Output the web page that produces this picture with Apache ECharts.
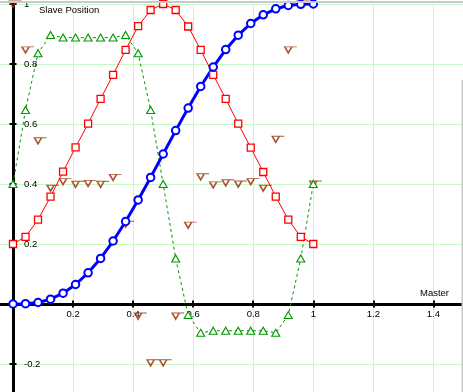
<!DOCTYPE html>
<html><head><meta charset="utf-8">
<style>html,body{margin:0;padding:0;background:#fff;}#chart{width:463px;height:392px;}</style>
<script src="https://cdn.jsdelivr.net/npm/echarts@6/dist/echarts.min.js"></script>
</head><body><div id="chart"></div>
<script>
const master = [0, 0.0417, 0.0833, 0.125, 0.1667, 0.2083, 0.25, 0.2917, 0.3333, 0.375, 0.4167, 0.4583, 0.5,
  0.5417, 0.5833, 0.625, 0.6667, 0.7083, 0.75, 0.7917, 0.8333, 0.875, 0.9167, 0.9583, 1];
const slavePosition = [0, 0.001, 0.005, 0.016, 0.036, 0.065, 0.104, 0.152, 0.21, 0.275, 0.347, 0.422, 0.5,
  0.578, 0.653, 0.725, 0.79, 0.848, 0.896, 0.935, 0.964, 0.984, 0.995, 0.999, 1];
const slaveVelocity = [0.2, 0.224, 0.281, 0.358, 0.441, 0.522, 0.601, 0.684, 0.764, 0.847, 0.926, 0.98, 1.0,
  0.98, 0.925, 0.847, 0.764, 0.684, 0.601, 0.521, 0.44, 0.358, 0.281, 0.224, 0.2];
const slaveAcceleration = [0.4, 0.647, 0.836, 0.897, 0.888, 0.888, 0.888, 0.888, 0.888, 0.897, 0.836, 0.647, 0.4,
  0.152, -0.037, -0.096, -0.089, -0.089, -0.089, -0.089, -0.089, -0.096, -0.037, 0.152, 0.4];
const slaveJerk = [1.0, 0.847, 0.544, 0.386, 0.408, 0.399, 0.402, 0.399, 0.422, 0.266, -0.04, -0.196, -0.196,
  -0.04, 0.263, 0.424, 0.397, 0.404, 0.4, 0.408, 0.386, 0.549, 0.847, 1.0, 0.4];
const xTickValues = [0, 0.2, 0.4, 0.6, 0.8, 1, 1.2, 1.4];
const xLabelValues = [0.2, 0.4, 0.6, 0.8, 1, 1.2, 1.4];
const yTickValues = [-0.2, 0, 0.2, 0.4, 0.6, 0.8, 1];
const yLabelValues = [-0.2, 0.2, 0.4, 0.6, 0.8, 1];

const FONT = 'Liberation Sans';
const pairs = arr => master.map((x, i) => [x, arr[i]]);

const X_MIN = -0.0433, X_MAX = 1.4985, Y_MIN = -0.2933, Y_MAX = 1.0;
const hidden = { axisLine: { show: false }, axisTick: { show: false }, axisLabel: { show: false }, splitLine: { show: false } };
const tick = (inside, values) => ({ show: true, inside: inside, length: 3.5, customValues: values, lineStyle: { color: '#000', width: 2 } });
const axisLine = { show: true, onZero: false, lineStyle: { color: '#000', width: 3 } };

const chart = echarts.init(document.getElementById('chart'), null, { renderer: 'canvas' });
chart.setOption({
  animation: false,
  backgroundColor: '#fff',
  grid: [
    { left: 0, right: 0, top: 4, bottom: 0, containLabel: false, outerBoundsMode: 'none' },   // plot area
    { left: 0, right: 0, top: 4, bottom: 88, containLabel: false, outerBoundsMode: 'none' },  // x axis (at y = 0)
    { left: 13, right: 0, top: 4, bottom: 0, containLabel: false, outerBoundsMode: 'none' }   // y axis (at x = 0)
  ],
  xAxis: [
    { gridIndex: 0, type: 'value', min: X_MIN, max: X_MAX,
      axisLine: { show: false }, axisLabel: { show: false },
      axisTick: { show: false, customValues: xTickValues },
      splitLine: { show: true, lineStyle: { color: '#c8f8c8', width: 1 } } },
    { gridIndex: 1, type: 'value', min: X_MIN, max: X_MAX, position: 'bottom',
      axisLine: axisLine, axisTick: tick(false, xTickValues),
      axisLabel: { show: true, customValues: xLabelValues, margin: 5, color: '#000', fontSize: 9.5, fontFamily: FONT, formatter: v => String(v) },
      splitLine: { show: false } },
    { gridIndex: 1, type: 'value', min: X_MIN, max: X_MAX, position: 'bottom',
      axisLine: axisLine, axisTick: tick(true, xTickValues), axisLabel: { show: false }, splitLine: { show: false } },
    Object.assign({ gridIndex: 2, type: 'value', min: 0, max: 1 }, hidden)
  ],
  yAxis: [
    { gridIndex: 0, type: 'value', min: Y_MIN, max: Y_MAX,
      axisLine: { show: false }, axisLabel: { show: false },
      axisTick: { show: false, customValues: yTickValues },
      splitLine: { show: true, lineStyle: { color: '#c8f8c8', width: 1 } } },
    Object.assign({ gridIndex: 1, type: 'value', min: 0, max: 1 }, hidden),
    { gridIndex: 2, type: 'value', min: Y_MIN, max: Y_MAX, position: 'left',
      axisLine: axisLine, axisTick: tick(false, yTickValues),
      axisLabel: { show: true, inside: true, align: 'left', customValues: yLabelValues, margin: 11, color: '#000', fontSize: 9.5, fontFamily: FONT, formatter: v => String(v) },
      splitLine: { show: false } },
    { gridIndex: 2, type: 'value', min: Y_MIN, max: Y_MAX, position: 'left',
      axisLine: axisLine, axisTick: tick(true, yTickValues), axisLabel: { show: false }, splitLine: { show: false } }
  ],
  series: [
    {
      name: 'Velocity', type: 'line', xAxisIndex: 0, yAxisIndex: 0, data: pairs(slaveVelocity), showAllSymbol: true,
      symbol: 'rect', symbolSize: 7,
      lineStyle: { color: '#ff0000', width: 1 },
      itemStyle: { color: '#fff', borderColor: '#ff0000', borderWidth: 1.3 },
      emphasis: { disabled: true }
    },
    {
      name: 'Acceleration', type: 'line', xAxisIndex: 0, yAxisIndex: 0, data: pairs(slaveAcceleration), showAllSymbol: true,
      symbol: 'triangle', symbolSize: [8, 7],
      lineStyle: { color: '#009900', width: 1, type: [3, 3] },
      itemStyle: { color: '#fff', borderColor: '#009900', borderWidth: 1.1 },
      emphasis: { disabled: true }
    },
    {
      name: 'Position', type: 'line', xAxisIndex: 0, yAxisIndex: 0, data: pairs(slavePosition), showAllSymbol: true,
      symbol: 'circle', symbolSize: 7.5,
      lineStyle: { color: '#0000ff', width: 3 },
      itemStyle: { color: '#fff', borderColor: '#0000ff', borderWidth: 2 },
      emphasis: { disabled: true }
    },
    {
      name: 'Jerk', type: 'scatter', xAxisIndex: 0, yAxisIndex: 0, data: pairs(slaveJerk),
      symbol: 'path://M0,0L7,0L3.5,6ZM3.5,0L12,0', symbolSize: [12, 6], symbolOffset: [2.5, 0],
      itemStyle: { color: 'rgba(255,255,255,0)', borderColor: '#952a00', borderWidth: 1.3 },
      emphasis: { disabled: true }
    }
  ],
  graphic: [
    { type: 'text', x: 39, y: 10, z: 100, style: { text: 'Slave Position', fill: '#000', fontSize: 9.5, fontFamily: FONT, verticalAlign: 'middle', align: 'left' } },
    { type: 'text', x: 420, y: 293, z: 100, style: { text: 'Master', fill: '#000', fontSize: 9.5, fontFamily: FONT, verticalAlign: 'middle', align: 'left' } },
    { type: 'rect', z: 100, shape: { x: 0, y: 1, width: 463, height: 2 }, style: { fill: '#c8c8d0' } },
    { type: 'rect', z: 100, shape: { x: 461.5, y: 80, width: 1.5, height: 312 }, style: { fill: '#c8c8c8' } }
  ]
});
</script></body></html>
